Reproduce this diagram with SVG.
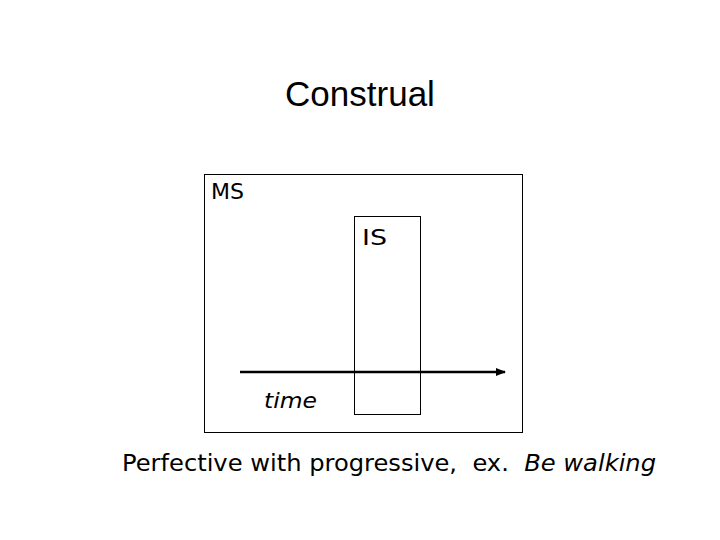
<svg xmlns="http://www.w3.org/2000/svg" width="720" height="540" viewBox="0 0 720 540">
<style>
.v{font-family:"DejaVu Sans",Verdana,sans-serif;font-size:21px;fill:#000}
.box{fill:none;stroke:#000;stroke-width:1}
</style>
<defs>
<marker id="ah" markerWidth="10" markerHeight="8" refX="9" refY="4" orient="auto" markerUnits="userSpaceOnUse">
<path d="M0,0 L10,4 L0,8 Z" fill="#000"/>
</marker>
</defs>
<rect width="720" height="540" fill="#fff"/>
<text x="360" y="106" text-anchor="middle" font-family="Liberation Sans,Arial,sans-serif" font-size="35">Construal</text>
<g id="MS">
<rect class="box" x="204.5" y="174.5" width="318" height="258"/>
<text class="v" x="211" y="199" textLength="33" lengthAdjust="spacingAndGlyphs">MS</text>
</g>
<g id="IS">
<rect class="box" x="354.5" y="216.5" width="66" height="198"/>
<text class="v" x="362" y="245" textLength="25" lengthAdjust="spacingAndGlyphs">IS</text>
</g>
<g id="connectors">
<line x1="240" y1="372" x2="505" y2="372" stroke="#000" stroke-width="2.5" marker-end="url(#ah)"/>
</g>
<text class="v" x="264" y="408" font-style="italic" textLength="53" lengthAdjust="spacingAndGlyphs">time</text>
<text class="v" x="122" y="471" font-size="23" xml:space="preserve" style="white-space:pre;font-size:23px" textLength="534" lengthAdjust="spacingAndGlyphs">Perfective with progressive,  ex.  <tspan font-style="italic">Be walking</tspan></text>
</svg>
